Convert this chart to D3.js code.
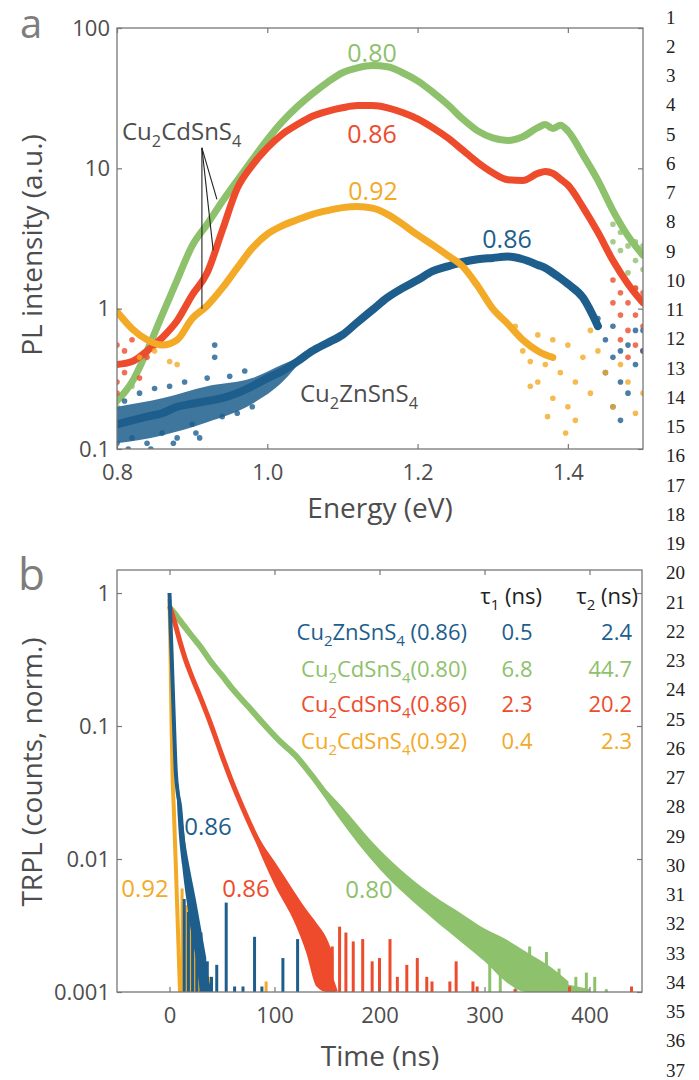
<!DOCTYPE html>
<html>
<head>
<meta charset="utf-8">
<script src="https://cdnjs.cloudflare.com/ajax/libs/d3/7.8.5/d3.min.js"></script>
<style>
  body { margin: 0; background: #fff; }
  text { font-family: "Open Sans", sans-serif; }
</style>
</head>
<body>
<div id="chart"></div>
<script>
var width = 699, height = 1080;

// ---- panel a : PL spectra ----
var energy = [0.80,0.82,0.84,0.86,0.88,0.90,0.92,0.94,0.96,0.98,1.00,1.02,1.04,1.06,1.08,1.10,1.12,1.14,1.16,1.18,
              1.20,1.22,1.24,1.26,1.28,1.30,1.32,1.34,1.36,1.37,1.38,1.39,1.40,1.42,1.44,1.46,1.48,1.50];
var plGreen  = [0.22,0.3,0.5,0.9,1.6,2.8,4.0,5.8,8.2,11.5,16,21.5,27.5,34,41,48,52,54,53,48,
                42,35,28.5,22.5,18.5,16.5,15.8,16.8,19.5,20.5,19.2,20.3,18.5,12.5,8.2,5.0,3.3,2.4];
var plRed    = [0.4,0.42,0.5,0.62,0.82,1.25,1.8,3.6,7.2,10.5,14,17.5,20.5,23.5,25.5,27,28,28,27,25,
                22.5,19.5,16.5,13.5,11,9.3,8.3,8.2,9.2,9.5,9.2,8.4,7.6,5.3,3.5,2.2,1.5,1.1];
var plOrange = [0.95,0.72,0.6,0.55,0.6,0.85,1.05,1.4,1.95,2.7,3.4,3.9,4.3,4.7,5.0,5.25,5.35,5.2,4.7,4.0,
                3.35,2.85,2.4,2.0,1.45,1.0,0.78,0.6,0.5,0.47,0.45,null,null,null,null,null,null,null];
var plBlue   = [0.15,0.16,0.17,0.18,0.2,0.21,0.22,0.23,0.25,0.28,0.32,0.36,0.42,0.5,0.57,0.65,0.8,0.98,1.2,1.4,
                1.6,1.85,2.0,2.15,2.25,2.3,2.35,2.25,2.05,1.95,1.8,1.65,1.5,1.2,0.75,null,null,null];

// noisy low-energy spread of the Cu2ZnSnS4 signal [energy, low, high]
var bandBlue = [[0.80,0.11,0.2],[0.86,0.125,0.23],[0.92,0.155,0.28],[0.98,0.21,0.32],[1.02,0.3,0.4],
                [1.05,0.46,0.47]];

// scattered points at the noisy ends [energy, intensity]
var scatGreen  = [[0.80,0.2],[0.81,0.25],[0.82,0.28],[1.46,4.0],[1.47,3.5],[1.47,2.6],[1.48,2.8],[1.48,1.8],[1.49,2.2],
                  [1.49,1.4],[1.50,1.9],[1.50,1.2],[1.46,3.0],[1.49,3.0],[1.50,2.8]];
var scatRed    = [[0.80,0.3],[0.80,0.55],[0.81,0.35],[0.82,0.6],[0.81,0.5],[0.83,0.32],[0.84,0.45],[0.80,0.25],
                  [1.46,1.6],[1.47,1.3],[1.47,0.9],[1.48,1.1],[1.48,0.7],[1.49,0.9],[1.49,0.55],[1.50,0.75],
                  [1.50,1.3],[1.46,1.1],[1.47,0.6],[1.48,0.45],[1.49,1.4],[1.50,0.5]];
var scatOrange = [[0.87,0.42],[0.88,0.4],[0.83,0.45],[0.85,0.5],[1.33,0.75],[1.34,0.5],[1.35,0.42],[1.36,0.65],
                  [1.37,0.4],[1.38,0.6],[1.39,0.35],[1.40,0.55],[1.41,0.3],[1.42,0.45],[1.43,0.25],[1.44,0.5],
                  [1.45,0.35],[1.46,0.2],[1.47,0.4],[1.48,0.3],[1.49,0.18],[1.50,0.25],[1.36,0.3],[1.40,0.2],
                  [1.38,0.23],[1.43,0.7],[1.35,0.28],[1.41,0.16],[1.397,0.13],[1.373,0.17]];
var scatBlue   = [[0.80,0.11],[0.81,0.22],[0.82,0.12],[0.83,0.25],[0.84,0.11],[0.85,0.27],[0.86,0.13],[0.87,0.28],
                  [0.88,0.12],[0.89,0.3],[0.90,0.15],[0.91,0.12],[0.93,0.55],[0.93,0.45],[0.92,0.32],[0.94,0.17],
                  [0.95,0.33],[0.96,0.18],[0.97,0.36],[0.98,0.2],[0.815,0.1],[0.845,0.1],[0.875,0.11],[0.905,0.13],
                  [1.43,1.0],[1.44,0.85],[1.45,0.6],[1.46,0.45],[1.45,0.35],[1.47,0.3],[1.46,0.2],[1.47,0.16],
                  [1.48,0.25],[1.49,0.4],[1.50,0.5],[1.48,0.55],[1.49,0.7],[1.46,0.75],[1.47,0.5],[1.50,0.7]];

// ---- panel b : TRPL decays ----
var tGreen  = [0,5,10,20,30,40,50,60,75,90,105,120,135,150,175,200,225,250,275,300,325,350,375,400];
var trGreen = [0.78,0.7,0.62,0.49,0.39,0.3,0.24,0.19,0.14,0.103,0.077,0.06,0.043,0.03,0.017,0.0099,0.0065,
               0.0043,0.003,0.0022,0.0016,0.0013,0.0011,0.001];
var tRed    = [0,5,10,15,20,30,40,50,60,70,80,90,100,110,120,130,140,150,158];
var trRed   = [0.8,0.6,0.43,0.32,0.25,0.16,0.1,0.06,0.037,0.024,0.016,0.011,0.0078,0.0058,0.0043,0.003,
               0.0021,0.0015,0.001];
var tBlue   = [0,2,4,6,8,10,13,16,20,25,30,35,38];
var trBlue  = [1.0,0.35,0.12,0.045,0.031,0.025,0.013,0.0075,0.005,0.0033,0.0021,0.0013,0.001];
var tOrange = [0,1,2,3,4,6,8,10];
var trOrange= [0.9,0.35,0.1,0.04,0.025,0.009,0.003,0.001];

// noise spread of the decays at low counts [time, low, high]
var bandGreen = [[130,0.047,0.047],[160,0.021,0.027],[200,0.0084,0.0118],[250,0.0036,0.0054],[280,0.0023,0.0038],
                 [300,0.0017,0.003],[320,0.0012,0.0025],[340,0.001,0.002],[360,0.001,0.0016],[380,0.001,0.0012]];
var bandRed   = [[70,0.024,0.024],[90,0.0095,0.0125],[100,0.0064,0.0096],[120,0.0032,0.0055],[130,0.002,0.0042],
                 [140,0.0011,0.0033],[150,0.001,0.0025],[156,0.001,0.0019]];
var bandBlue2 = [[6,0.045,0.045],[8,0.02,0.038],[12,0.009,0.021],[16,0.005,0.012],[20,0.003,0.008],
                 [25,0.0018,0.005],[30,0.001,0.003],[35,0.001,0.0018]];

var spikesBlue   = [[14,0.005],[18,0.004],[22,0.003],[26,0.0025],[30,0.0028],[36,0.0017],[40,0.0013],[45,0.0016],
                    [54,0.0047],[62,0.0011],[70,0.0011],[81,0.0026],[88,0.0011],[108,0.0018],[122,0.0025]];
var spikesOrange = [[12,0.006],[16,0.0045],[20,0.0038],[24,0.0035],[28,0.0022],[33,0.0016],[38,0.0013],[92,0.0012]];
var spikesRed    = [[155,0.0022],[162,0.0031],[168,0.0028],[175,0.0024],[184,0.0025],[193,0.0017],[200,0.0018],
                    [210,0.0025],[217,0.0013],[226,0.0016],[236,0.0018],[245,0.0013],[250,0.0012],[267,0.0012],
                    [273,0.0017],[289,0.0012],[293,0.0011],[329,0.00105],[381,0.0011],[440,0.0011]];
var spikesGreen  = [[305,0.0022],[315,0.0019],[330,0.002],[343,0.0022],[350,0.0017],[359,0.002],[371,0.0015],
                    [387,0.0013],[397,0.0014],[405,0.0013],[416,0.00105]];

var legendNames = ["Cu_2ZnSnS_4 (0.86)", "Cu_2CdSnS_4(0.80)", "Cu_2CdSnS_4(0.86)", "Cu_2CdSnS_4(0.92)"];
var tau1 = ["0.5", "6.8", "2.3", "0.4"];
var tau2 = ["2.4", "44.7", "20.2", "2.3"];

var cGreen = "#8dc16b", cRed = "#ee4b2d", cOrange = "#f3aa27", cBlue = "#1d5e8d";
var legendColors = [cBlue, cGreen, cRed, cOrange];
var frameGray = "#777", textGray = "#4d4d4d";

var svg = d3.select("#chart")
    .append("svg")
    .attr("width", width)
    .attr("height", height);

// helper for chemical formulas with subscripts, "_" marks a subscript digit
function chem(sel, str, size) {
  var parts = str.split(/(_\d)/).filter(function(p) { return p.length; });
  var shifted = false;
  parts.forEach(function(p) {
    if (p[0] === "_") {
      sel.append("tspan").attr("dy", size * 0.28).attr("font-size", size * 0.68).text(p.slice(1));
      shifted = true;
    } else {
      var t = sel.append("tspan").text(p);
      if (shifted) { t.attr("dy", -size * 0.28); shifted = false; }
    }
  });
}

function frameAxes(g, x, y, xTicks, yTicks, xFmt, yFmt) {
  var x0 = x.range()[0], x1 = x.range()[1], y0 = y.range()[0], y1 = y.range()[1];
  var ax = [
    g.append("g").attr("transform", "translate(0," + y0 + ")")
      .call(d3.axisBottom(x).tickValues(xTicks).tickSize(-5).tickPadding(15).tickFormat(xFmt)),
    g.append("g").attr("transform", "translate(0," + y1 + ")")
      .call(d3.axisTop(x).tickValues(xTicks).tickSize(-5).tickFormat("")),
    g.append("g").attr("transform", "translate(" + x0 + ",0)")
      .call(d3.axisLeft(y).tickValues(yTicks).tickSize(-5).tickPadding(7).tickFormat(yFmt)),
    g.append("g").attr("transform", "translate(" + x1 + ",0)")
      .call(d3.axisRight(y).tickValues(yTicks).tickSize(-5).tickFormat(""))
  ];
  ax.forEach(function(a) {
    a.attr("font-family", null).attr("font-size", null);
    a.select(".domain").remove();
    a.selectAll(".tick line").attr("stroke", frameGray).attr("stroke-width", 1.2);
    a.selectAll(".tick text").attr("fill", textGray).style("font-size", "22px");
  });
  g.append("rect")
    .attr("x", x0).attr("y", y1).attr("width", x1 - x0).attr("height", y0 - y1)
    .attr("fill", "none").attr("stroke", frameGray).attr("stroke-width", 1.3);
}

// ================= panel a =================
var xA = d3.scaleLinear().domain([0.8, 1.5]).range([117, 643]);
var yA = d3.scaleLog().domain([0.1, 100]).range([449, 28]);

svg.append("clipPath").attr("id", "clipA")
  .append("rect").attr("x", 117).attr("y", 28).attr("width", 526).attr("height", 421);

var gA = svg.append("g");
var plot = gA.append("g").attr("clip-path", "url(#clipA)");

var lineA = d3.line()
    .defined(function(d) { return d[1] != null; })
    .x(function(d) { return xA(d[0]); })
    .y(function(d) { return yA(d[1]); })
    .curve(d3.curveMonotoneX);

var areaA = d3.area()
    .x(function(d) { return xA(d[0]); })
    .y0(function(d) { return yA(d[1]); })
    .y1(function(d) { return yA(d[2]); })
    .curve(d3.curveMonotoneX);

var plSeries = [
  {vals: plGreen, scat: scatGreen, color: cGreen, w: 7},
  {vals: plRed, scat: scatRed, color: cRed, w: 7},
  {vals: plBlue, scat: scatBlue, color: cBlue, w: 8, band: bandBlue},
  {vals: plOrange, scat: scatOrange, color: cOrange, w: 7}
];

plSeries.forEach(function(s) {
  if (s.band) {
    plot.append("path").datum(s.band).attr("d", areaA)
      .attr("fill", s.color).attr("opacity", 0.85);
  }
  plot.append("g").selectAll("circle")
    .data(s.scat)
    .enter().append("circle")
      .attr("cx", function(d) { return xA(d[0]); })
      .attr("cy", function(d) { return yA(d[1]); })
      .attr("r", 2.8)
      .attr("fill", s.color)
      .attr("opacity", 0.8);
  plot.append("path")
    .datum(energy.map(function(e, i) { return [e, s.vals[i]]; }))
    .attr("d", lineA)
    .attr("fill", "none")
    .attr("stroke", s.color)
    .attr("stroke-width", s.w)
    .attr("stroke-linejoin", "round")
    .attr("stroke-linecap", "round");
});

frameAxes(gA, xA, yA, [0.8, 1.0, 1.2, 1.4], [0.1, 1, 10, 100],
          d3.format(".1f"), function(d) { return d >= 1 ? d3.format("d")(d) : "0.1"; });

// annotation lines for Cu2CdSnS4
var apex = [0.913, 14];
var arrowEnds = [[0.933, 6.0], [0.928, 2.6], [0.913, 1.0]];
gA.append("g").selectAll("line")
  .data(arrowEnds)
  .enter().append("line")
    .attr("x1", xA(apex[0])).attr("y1", yA(apex[1]))
    .attr("x2", function(d) { return xA(d[0]); })
    .attr("y2", function(d) { return yA(d[1]); })
    .attr("stroke", "#222").attr("stroke-width", 1.1);

chem(gA.append("text").attr("x", 122).attr("y", 140).attr("fill", textGray).style("font-size", "24px"),
     "Cu_2CdSnS_4", 24);
chem(gA.append("text").attr("x", 300).attr("y", 402).attr("fill", textGray).style("font-size", "24px"),
     "Cu_2ZnSnS_4", 24);

var labelsA = [
  {t: "0.80", x: 372, y: 62, c: cGreen},
  {t: "0.86", x: 372, y: 143, c: cRed},
  {t: "0.92", x: 373, y: 200, c: cOrange},
  {t: "0.86", x: 507, y: 248, c: cBlue}
];
gA.selectAll(".lbl").data(labelsA).enter().append("text")
  .attr("x", function(d) { return d.x; })
  .attr("y", function(d) { return d.y; })
  .attr("text-anchor", "middle")
  .attr("fill", function(d) { return d.c; })
  .style("font-size", "25px")
  .text(function(d) { return d.t; });

svg.append("text").attr("x", 20).attr("y", 38).attr("fill", "#7d7d7d")
  .style("font-size", "40px").text("a");
svg.append("text").attr("x", 380).attr("y", 518).attr("text-anchor", "middle")
  .attr("fill", textGray).style("font-size", "28px").text("Energy (eV)");
svg.append("text").attr("transform", "translate(42,245) rotate(-90)").attr("text-anchor", "middle")
  .attr("fill", textGray).style("font-size", "28px").text("PL intensity (a.u.)");

// ================= panel b =================
var xB = d3.scaleLinear().domain([-50, 450]).range([117, 642]);
var yB = d3.scaleLog().domain([0.001, 1.49]).range([992, 570]);

svg.append("clipPath").attr("id", "clipB")
  .append("rect").attr("x", 117).attr("y", 570).attr("width", 525).attr("height", 422);

var gB = svg.append("g");
var plotB = gB.append("g").attr("clip-path", "url(#clipB)");

var lineB = d3.line()
    .x(function(d) { return xB(d[0]); })
    .y(function(d) { return yB(d[1]); })
    .curve(d3.curveMonotoneX);

var areaB = d3.area()
    .x(function(d) { return xB(d[0]); })
    .y0(function(d) { return yB(d[1]); })
    .y1(function(d) { return yB(d[2]); })
    .curve(d3.curveMonotoneX);

var trSeries = [
  {t: tGreen, v: trGreen, sp: spikesGreen, band: bandGreen, color: cGreen, w: 6},
  {t: tRed, v: trRed, sp: spikesRed, band: bandRed, color: cRed, w: 5},
  {t: tOrange, v: trOrange, sp: spikesOrange, color: cOrange, w: 4},
  {t: tBlue, v: trBlue, sp: spikesBlue, band: bandBlue2, color: cBlue, w: 4}
];

trSeries.forEach(function(s) {
  plotB.append("g").selectAll("line")
    .data(s.sp)
    .enter().append("line")
      .attr("x1", function(d) { return xB(d[0]); })
      .attr("x2", function(d) { return xB(d[0]); })
      .attr("y1", yB(0.001) + 2)
      .attr("y2", function(d) { return yB(d[1]); })
      .attr("stroke", s.color)
      .attr("stroke-width", 3);
  if (s.band) {
    plotB.append("path").datum(s.band).attr("d", areaB).attr("fill", s.color);
  }
  plotB.append("path")
    .datum(s.t.map(function(t, i) { return [t, s.v[i]]; }))
    .attr("d", lineB)
    .attr("fill", "none")
    .attr("stroke", s.color)
    .attr("stroke-width", s.w)
    .attr("stroke-linejoin", "round");
});

frameAxes(gB, xB, yB, [0, 100, 200, 300, 400], [0.001, 0.01, 0.1, 1],
          d3.format("d"), function(d) { return d >= 1 ? "1" : d3.format("")(d); });

var labelsB = [
  {t: "0.86", x: 208, y: 835, c: cBlue},
  {t: "0.92", x: 145, y: 897, c: cOrange},
  {t: "0.86", x: 246, y: 897, c: cRed},
  {t: "0.80", x: 369, y: 898, c: cGreen}
];
gB.selectAll(".lbl").data(labelsB).enter().append("text")
  .attr("x", function(d) { return d.x; })
  .attr("y", function(d) { return d.y; })
  .attr("text-anchor", "middle")
  .attr("fill", function(d) { return d.c; })
  .style("font-size", "24px")
  .text(function(d) { return d.t; });

// lifetime table
chem(gB.append("text").attr("x", 542).attr("y", 604).attr("text-anchor", "end")
       .attr("fill", "#222").style("font-size", "22px"), "τ_1 (ns)", 22);
chem(gB.append("text").attr("x", 638).attr("y", 604).attr("text-anchor", "end")
       .attr("fill", "#222").style("font-size", "22px"), "τ_2 (ns)", 22);

var rowY = [640, 677, 712, 749];
legendNames.forEach(function(n, i) {
  chem(gB.append("text").attr("x", 467).attr("y", rowY[i]).attr("text-anchor", "end")
         .attr("fill", legendColors[i]).style("font-size", "22px"), n, 22);
  gB.append("text").attr("x", 517).attr("y", rowY[i]).attr("text-anchor", "middle")
    .attr("fill", legendColors[i]).style("font-size", "22px").text(tau1[i]);
  gB.append("text").attr("x", 632).attr("y", rowY[i]).attr("text-anchor", "end")
    .attr("fill", legendColors[i]).style("font-size", "22px").text(tau2[i]);
});

svg.append("text").attr("x", 18).attr("y", 590).attr("fill", "#7d7d7d")
  .style("font-size", "44px").text("b");
svg.append("text").attr("x", 380).attr("y", 1066).attr("text-anchor", "middle")
  .attr("fill", textGray).style("font-size", "28px").text("Time (ns)");
svg.append("text").attr("transform", "translate(42,772) rotate(-90)").attr("text-anchor", "middle")
  .attr("fill", textGray).style("font-size", "28px").text("TRPL (counts, norm.)");

// manuscript line numbers
var lineNos = d3.range(1, 38);
svg.append("g").selectAll("text")
  .data(lineNos)
  .enter().append("text")
    .attr("x", 666)
    .attr("y", function(d) { return 23.5 + (d - 1) * 29.25; })
    .attr("fill", "#222")
    .style("font-family", "'Liberation Serif', serif")
    .style("font-size", "19px")
    .text(function(d) { return d; });
</script>
</body>
</html>
